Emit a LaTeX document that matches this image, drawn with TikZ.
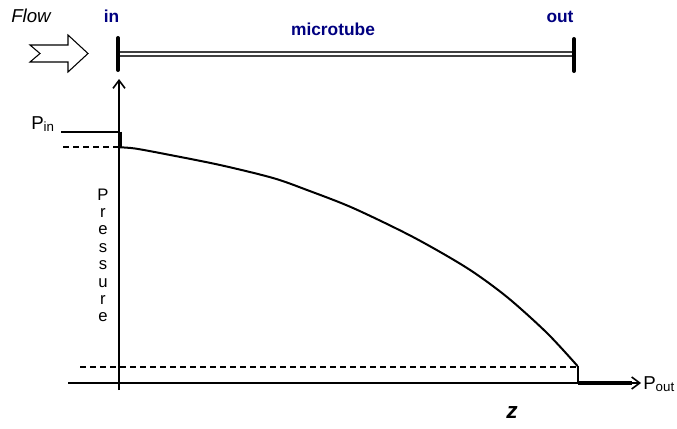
\documentclass[tikz,border=0pt]{standalone}
\usepackage{fontspec}
\setmainfont{Liberation Sans}
\usetikzlibrary{arrows.meta}
\definecolor{tubeblue}{RGB}{0,0,128}
\tikzset{
    label/.style={inner sep=0pt, anchor=base},
    tubelabel/.style={label, text=tubeblue, font=\fontsize{13}{15}\selectfont\bfseries},
    axis/.style={line width=1.5pt, -{Straight Barb[length=6pt,width=9pt,line width=1.2pt]}},
    guide/.style={line width=1.4pt, dash pattern=on 4.5pt off 3pt},
    tick/.style={line width=3pt, line cap=round}
}
\newcommand{\bigP}[1]{{\fontsize{14}{16}\selectfont P}\raisebox{-0.35ex}{\fontsize{10}{11}\selectfont #1}}
\begin{document}
\begin{tikzpicture}[x=0.75pt, y=-0.75pt]
    \useasboundingbox (0,0) rectangle (677,428);

    % Flow arrow and tube
    \node[label, anchor=base west, font=\fontsize{14}{16}\selectfont\itshape] (flow) at (11,23) {Flow};
    \draw[line width=0.8pt, fill=white] (30,45) -- (68,45) -- (68,35) -- (88,53.5) -- (68,72) -- (68,62) -- (30,62) -- (40,53.5) -- cycle;
    \node[tubelabel] (in) at (111.5,23) {in};
    \node[tubelabel] (tube) at (333,36) {microtube};
    \node[tubelabel] (out) at (560,23) {out};
    \coordinate (tubeL) at (118,54);
    \coordinate (tubeR) at (574,54);
    \draw[draw=black!75, line width=0.9pt, double=white, double distance=2.2pt] (tubeL) -- (tubeR);
    \draw[tick] (118,38) -- (118,70);
    \draw[tick] (574,39) -- (574,71);

    % Axes
    \coordinate (origin) at (119,383);
    \draw[axis] (119,390) -- (119,79);
    \draw[axis] (68,383) -- (641,383);
    \node[label, anchor=base west] (pout) at (643,389) {\bigP{out}};
    \node[label, anchor=base west] (pin) at (31,129) {\bigP{in}};
    \node[label, font=\fontsize{17}{19}\selectfont\bfseries\itshape] (z) at (512,418) {z};
    \foreach \c [count=\i from 0] in {P,r,e,s,s,u,r,e}
        \node[label, font=\fontsize{12.5}{14}\selectfont] (p\i) at (103,{200+17.4*\i}) {\c};

    % Pressure profile
    \draw[guide] (63,147) -- (120,147);
    \draw[guide] (80,367) -- (578,367);
    \draw[line width=1.5pt] (61,131.5) -- (120,131.5);
    \draw[line width=2.6pt] (120,131.5) -- (120,147);
    \draw[line width=1.5pt, line join=round] plot[smooth] coordinates {(120,147.3) (135,148.5) (165,154) (220,165) (273,178) (307,190) (353,208) (413,237) (467,268) (507,297) (547,333) (577.5,366)};
    \draw[line width=1.6pt] (578,366) -- (578,383);
    \draw[line width=2.6pt] (578,383) -- (632,383);
\end{tikzpicture}
\end{document}
